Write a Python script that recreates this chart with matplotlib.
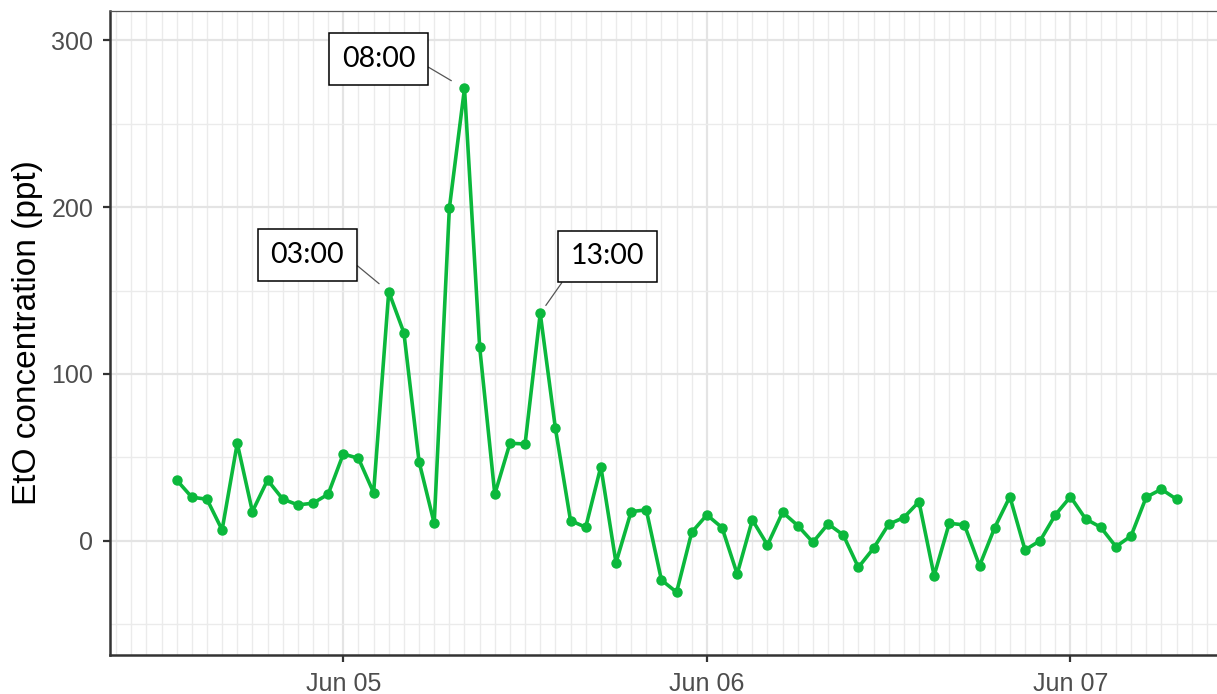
import matplotlib
matplotlib.use("Agg")
import matplotlib.pyplot as plt
import matplotlib.dates as mdates
import pandas as pd

# Hourly EtO concentrations (ppt), starting Jun 04 13:00
start_time = "2021-06-04 13:00"
eto_ppt = [
    36.5, 26.2, 25.0, 6.6, 58.5, 17.6, 36.5, 25.1, 21.6, 22.6, 28.0,   # Jun 04 13:00-23:00
    52.1, 49.5, 28.9, 149.3, 124.7, 47.5, 10.6, 199.2, 271.0, 116.3,   # Jun 05 00:00-09:00
    28.0, 58.5, 58.1, 136.3, 67.5, 12.2, 8.2, 44.5, -13.0, 17.6,       # 10:00-19:00
    18.6, -23.4, -30.7, 5.2,                                           # 20:00-23:00
    15.6, 8.0, -19.8, 12.6, -2.4, 17.2, 9.2, -0.8, 10.2, 3.6,          # Jun 06 00:00-09:00
    -15.8, -4.4, 10.0, 14.0, 23.5, -20.8, 10.6, 9.6, -14.8, 8.0,       # 10:00-19:00
    26.5, -5.4, 0.2, 15.6,                                             # 20:00-23:00
    26.5, 13.2, 8.2, -3.4, 3.0, 26.2, 31.0, 25.0,                      # Jun 07 00:00-07:00
]
times = pd.date_range(start_time, periods=len(eto_ppt), freq="h")

# Peak hours that get a callout label
peak_labels = ["03:00", "08:00", "13:00"]
peak_times = pd.to_datetime(["2021-06-05 03:00", "2021-06-05 08:00", "2021-06-05 13:00"])

y_ticks = [0, 100, 200, 300]
y_minor = [-50, 50, 150, 250]
y_label = "EtO concentration (ppt)"

line_color = "#0bb83c"

fig = plt.figure(figsize=(12.17, 6.94), dpi=100)
ax = fig.add_axes([110 / 1217, 39 / 694, 1.0 - 110 / 1217 + 0.002, (655 - 11) / 694])

ax.plot(times, eto_ppt, color=line_color, lw=2.6, marker="o", ms=6.5, zorder=3)

# Axis limits
x0 = pd.Timestamp("2021-06-04 08:36")
x1 = pd.Timestamp("2021-06-07 09:50")
ax.set_xlim(x0, x1)
ax.set_ylim(-68.3, 317.4)

# Ticks and grid
ax.xaxis.set_major_locator(mdates.DayLocator())
ax.xaxis.set_major_formatter(mdates.DateFormatter("%b %d"))
ax.xaxis.set_minor_locator(mdates.HourLocator())
ax.set_yticks(y_ticks)
ax.set_yticks(y_minor, minor=True)
ax.grid(which="major", color="#e4e4e4", lw=1.6, zorder=0)
ax.grid(which="minor", color="#ebebeb", lw=1.0, zorder=0)
ax.set_axisbelow(True)

ax.tick_params(which="major", length=5, width=1.6, color="#333333",
               labelsize=18, labelcolor="#4d4d4d", pad=7)
ax.tick_params(which="minor", length=0)
for lab in ax.get_xticklabels() + ax.get_yticklabels():
    lab.set_fontfamily("Liberation Sans")

for side in ("left", "bottom"):
    ax.spines[side].set_color("#333333")
    ax.spines[side].set_linewidth(1.8)
ax.spines["top"].set_color("#555555")
ax.spines["top"].set_linewidth(0.9)
ax.spines["right"].set_visible(False)

ax.set_ylabel(y_label, fontsize=24, family="Liberation Sans", color="black", labelpad=6)

# Callout boxes for the peak hours
series = pd.Series(eto_ppt, index=times)
offsets = {"03:00": (-58.7, 26.6), "08:00": (-62.0, 21.0), "13:00": (48.7, 41.0)}
relpos = {"03:00": (1.0, 0.5), "08:00": (1.0, 0.5), "13:00": (0.0, 0.0)}
shrink = {"03:00": 9, "08:00": 11, "13:00": 7}
for lab, t in zip(peak_labels, peak_times):
    ax.annotate(
        lab, xy=(t, series[t]), xytext=offsets[lab], textcoords="offset points",
        ha="center", va="center", fontsize=20.5, family="Lato", color="black",
        bbox=dict(boxstyle="square,pad=0.45", fc="white", ec="black", lw=1.1),
        arrowprops=dict(arrowstyle="-", color="#555555", lw=0.9,
                        relpos=relpos[lab], shrinkA=0, shrinkB=shrink[lab]),
        zorder=5,
    )

fig.savefig("out.png", dpi=100)
